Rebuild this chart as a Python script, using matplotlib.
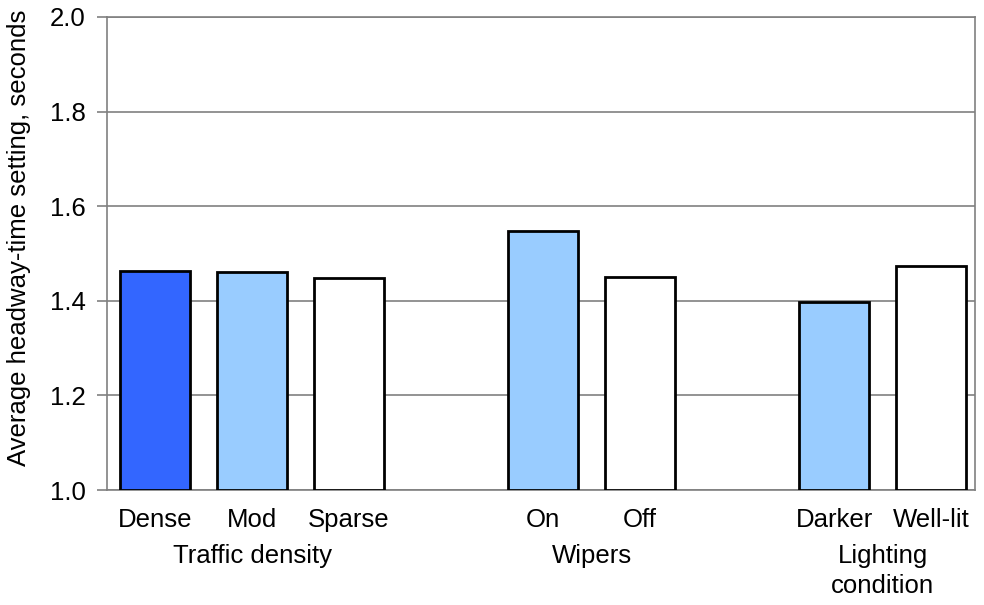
import matplotlib
matplotlib.use("Agg")
import matplotlib.pyplot as plt
from matplotlib.transforms import blended_transform_factory

plt.rcParams['font.family'] = ['Liberation Sans', 'DejaVu Sans']

categories = ["Dense", "Mod", "Sparse", "On", "Off", "Darker", "Well-lit"]
values = [1.463, 1.460, 1.449, 1.548, 1.450, 1.398, 1.474]
positions = [0, 1, 2, 4, 5, 7, 8]
colors = ["#3366FF", "#99CCFF", "#FFFFFF", "#99CCFF", "#FFFFFF", "#99CCFF", "#FFFFFF"]
groups = ["Traffic density", "Wipers", "Lighting\ncondition"]
group_centers = [1, 4.5, 7.5]
yticks = [1.0, 1.2, 1.4, 1.6, 1.8, 2.0]

FS = 18.5
fig = plt.figure(figsize=(9.84, 6.05), dpi=100)
ax = fig.add_axes([107/984, 1-490/605, (975-107)/984, (490-17)/605])

base = 1.0
ax.bar(positions, [v - base for v in values], bottom=base, width=0.72,
       color=colors, edgecolor="black", linewidth=2, zorder=3)

ax.set_xlim(-0.495, 8.45)
ax.set_ylim(1.0, 2.0)
ax.set_yticks(yticks)
ax.set_yticklabels([f"{t:.1f}" for t in yticks], fontsize=FS)
ax.yaxis.grid(True, color="#808080", linewidth=1.2, zorder=0)
ax.set_axisbelow(True)
for s in ax.spines.values():
    s.set_color("#808080")
    s.set_linewidth(1.2)
ax.tick_params(axis='y', length=7, width=1.2, color="#808080", pad=8.5)
ax.set_xticks(positions)
ax.set_xticklabels(categories, fontsize=FS)
ax.tick_params(axis='x', length=0, pad=13)

fig.text(19/984, 1-238/605, "Average headway-time setting, seconds",
         rotation=90, ha="center", va="center", fontsize=FS)

trans = blended_transform_factory(ax.transData, fig.transFigure)
for g, c in zip(groups, group_centers):
    ax.text(c, 1-544/605, g, transform=trans, ha="center", va="top",
            fontsize=FS, linespacing=1.29)

fig.savefig("out.png", dpi=100)
